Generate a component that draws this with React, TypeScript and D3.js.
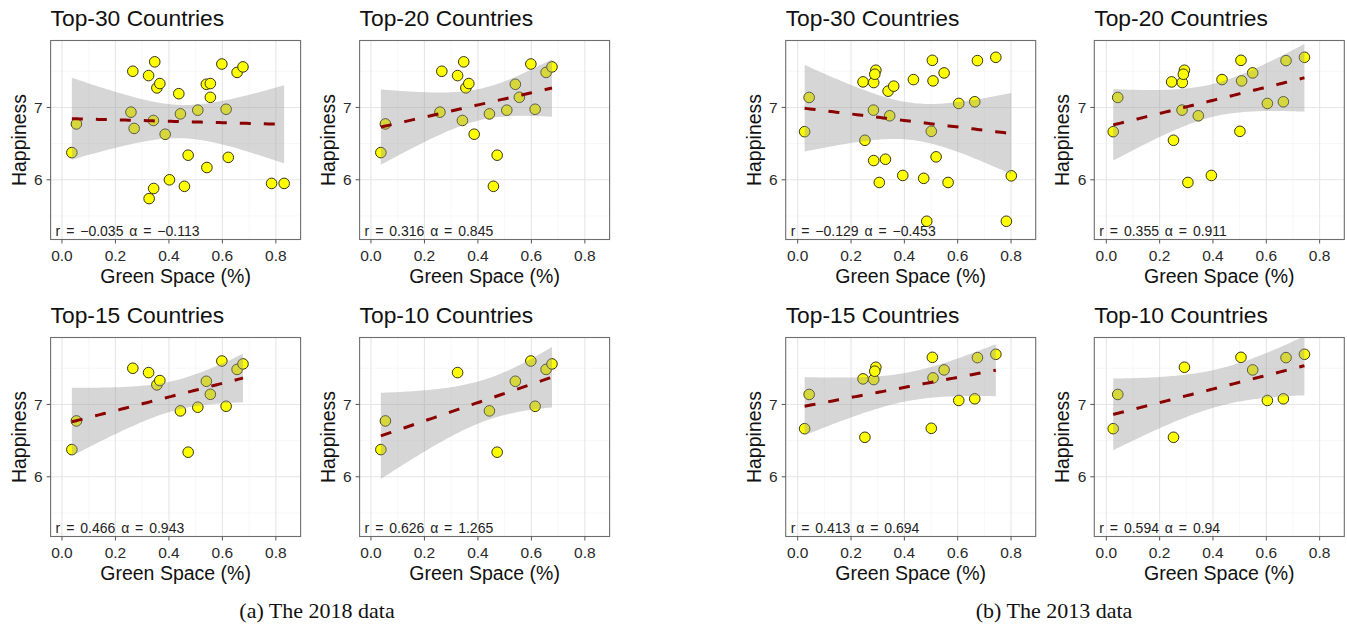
import React from "react";
import * as d3 from "d3";

// ---- Data (ordered by rank: top-10, 11-15, 16-20, 21-30) ----
const topSizes = [30, 20, 15, 10];
const panelTitles = ["Top-30 Countries", "Top-20 Countries", "Top-15 Countries", "Top-10 Countries"];

const green2018 = [
  0.037, 0.054, 0.324, 0.443, 0.472, 0.540, 0.598, 0.614, 0.655, 0.677,
  0.265, 0.355, 0.366, 0.508, 0.555,
  0.258, 0.347, 0.342, 0.386, 0.458,
  0.270, 0.326, 0.343, 0.402, 0.437, 0.555, 0.542, 0.622, 0.784, 0.831,
];
const happy2018 = [
  6.376, 6.772, 7.440, 6.911, 6.340, 7.320, 7.600, 6.975, 7.484, 7.560,
  7.500, 7.270, 7.330, 6.962, 7.140,
  6.935, 7.630, 6.820, 6.630, 5.910,
  6.710, 5.740, 5.880, 6.000, 7.190, 7.330, 6.170, 6.310, 5.950, 5.950,
];
const green2013 = [
  0.026, 0.043, 0.252, 0.293, 0.505, 0.549, 0.604, 0.664, 0.674, 0.743,
  0.245, 0.285, 0.289, 0.5075, 0.501,
  0.284, 0.306, 0.345, 0.394, 0.434,
  0.285, 0.329, 0.339, 0.360, 0.4725, 0.484, 0.519, 0.564, 0.801, 0.7825,
];
const happy2013 = [
  6.665, 7.138, 6.546, 7.514, 7.651, 7.477, 7.055, 7.078, 7.647, 7.693,
  7.353, 7.344, 7.459, 7.367, 6.670,
  6.963, 5.963, 6.885, 6.060, 7.385,
  6.266, 6.284, 7.225, 7.294, 6.020, 5.427, 6.317, 5.963, 6.055, 5.427,
];
const r2018 = ["\u22120.035", "0.316", "0.466", "0.626"];
const alpha2018 = ["\u22120.113", "0.845", "0.943", "1.265"];
const r2013 = ["\u22120.129", "0.355", "0.413", "0.594"];
const alpha2013 = ["\u22120.453", "0.911", "0.694", "0.94"];

const xTicks = [0, 0.2, 0.4, 0.6, 0.8];
const xMinor = [0.1, 0.3, 0.5, 0.7];
const yTicks = [6, 7];
const yMinor = [5.5, 6.5, 7.5];

// t critical values (95%, two-sided) by degrees of freedom
const tCrit: Record<number, number> = { 8: 2.306, 13: 2.1604, 18: 2.1009, 28: 2.0484 };

const FONT = "'Liberation Sans', Arial, Helvetica, sans-serif";
const PW = 250;
const rowTops = [40.5, 337.5];
const PH = 199;

const figs = [
  { green: green2018, happy: happy2018, rs: r2018, alphas: alpha2018, lefts: [50.6, 359.6], xDomain: [-0.0425, 0.8925], caption: "(a) The 2018 data", capX: 317 },
  { green: green2013, happy: happy2013, rs: r2013, alphas: alpha2013, lefts: [785.7, 1094.3], xDomain: [-0.045, 0.8925], caption: "(b) The 2013 data", capX: 1054 },
];

function fitBand(xs: number[], ys: number[]) {
  const n = xs.length;
  const mx = d3.mean(xs)!;
  const my = d3.mean(ys)!;
  let sxx = 0, sxy = 0;
  for (let i = 0; i < n; i++) {
    sxx += (xs[i] - mx) ** 2;
    sxy += (xs[i] - mx) * (ys[i] - my);
  }
  const b = sxy / sxx;
  const a = my - b * mx;
  let sse = 0;
  for (let i = 0; i < n; i++) sse += (ys[i] - a - b * xs[i]) ** 2;
  const s = Math.sqrt(sse / (n - 2));
  const t = tCrit[n - 2];
  const [x0, x1] = d3.extent(xs) as [number, number];
  return d3.range(80).map((i) => {
    const x = x0 + ((x1 - x0) * i) / 79;
    const fit = a + b * x;
    const se = s * Math.sqrt(1 / n + (x - mx) ** 2 / sxx);
    return { x, fit, lo: fit - t * se, hi: fit + t * se };
  });
}

function Panel({ left, top, xDomain, xs, ys, title, r, alpha, id }: any) {
  const x = d3.scaleLinear().domain(xDomain).range([left, left + PW]);
  const y = d3.scaleLinear().domain([5.175, 7.925]).range([top + PH, top]);
  const band = fitBand(xs, ys);
  const area = d3.area<any>().x((d) => x(d.x)).y0((d) => y(d.lo)).y1((d) => y(d.hi));
  const line = d3.line<any>().x((d) => x(d.x)).y((d) => y(d.fit));
  const bottom = top + PH;
  const right = left + PW;
  return (
    <g>
      <defs>
        <clipPath id={id}>
          <rect x={left} y={top} width={PW} height={PH} />
        </clipPath>
      </defs>
      <rect x={left} y={top} width={PW} height={PH} fill="#fff" />
      {xMinor.map((v) => (
        <line key={"xm" + v} x1={x(v)} x2={x(v)} y1={top} y2={bottom} stroke="#f2f2f2" strokeWidth={0.6} />
      ))}
      {yMinor.map((v) => (
        <line key={"ym" + v} x1={left} x2={right} y1={y(v)} y2={y(v)} stroke="#f2f2f2" strokeWidth={0.6} />
      ))}
      {xTicks.map((v) => (
        <line key={"xg" + v} x1={x(v)} x2={x(v)} y1={top} y2={bottom} stroke="#e6e6e6" strokeWidth={1.1} />
      ))}
      {yTicks.map((v) => (
        <line key={"yg" + v} x1={left} x2={right} y1={y(v)} y2={y(v)} stroke="#e6e6e6" strokeWidth={1.1} />
      ))}
      <g clipPath={`url(#${id})`}>
        {xs.map((v: number, i: number) => (
          <circle key={i} cx={x(v)} cy={y(ys[i])} r={5.3} fill="#ffff00" stroke="#333318" strokeWidth={1} />
        ))}
        <path d={area(band)!} fill="#999999" fillOpacity={0.4} />
        <path d={line(band)!} fill="none" stroke="#8b0000" strokeWidth={3} strokeDasharray="11 13" />
      </g>
      <rect x={left} y={top} width={PW} height={PH} fill="none" stroke="#6e6e6e" strokeWidth={1.1} />
      {xTicks.map((v) => (
        <g key={"xt" + v}>
          <line x1={x(v)} x2={x(v)} y1={bottom} y2={bottom + 4} stroke="#555" strokeWidth={1} />
          <text x={x(v)} y={bottom + 21.5} textAnchor="middle" fontSize={15.5} fill="#2a2a2a" fontFamily={FONT}>
            {d3.format(".1f")(v)}
          </text>
        </g>
      ))}
      {yTicks.map((v) => (
        <g key={"yt" + v}>
          <line x1={left - 4} x2={left} y1={y(v)} y2={y(v)} stroke="#555" strokeWidth={1} />
          <text x={left - 8} y={y(v) + 5.5} textAnchor="end" fontSize={15.5} fill="#2a2a2a" fontFamily={FONT}>
            {v}
          </text>
        </g>
      ))}
      <text x={left + 5} y={bottom - 3.5} fontSize={14} wordSpacing={2} fill="#222" fontFamily={FONT}>
        {`r = ${r} \u03b1 = ${alpha}`}
      </text>
      <text x={left} y={top - 14.5} fontSize={22.8} fill="#111" fontFamily={FONT}>
        {title}
      </text>
      <text x={(left + right) / 2} y={bottom + 43.5} textAnchor="middle" fontSize={19.5} fill="#111" fontFamily={FONT}>
        Green Space (%)
      </text>
      <text
        transform={`translate(${left - 25},${(top + bottom) / 2}) rotate(-90)`}
        textAnchor="middle"
        fontSize={19.5}
        fill="#111"
        fontFamily={FONT}
      >
        Happiness
      </text>
    </g>
  );
}

export default function App() {
  return (
    <svg width={1347} height={627} style={{ position: "absolute", left: 0, top: 0, background: "#fff" }}>
      <rect width={1347} height={627} fill="#fff" />
      {figs.map((f, fi) => (
        <g key={fi}>
          {topSizes.map((n, k) => {
            const col = k % 2;
            const row = Math.floor(k / 2);
            return (
              <Panel
                key={k}
                id={`clip-${fi}-${k}`}
                left={f.lefts[col]}
                top={rowTops[row]}
                xDomain={f.xDomain}
                xs={f.green.slice(0, n)}
                ys={f.happy.slice(0, n)}
                title={panelTitles[k]}
                r={f.rs[k]}
                alpha={f.alphas[k]}
              />
            );
          })}
          <text x={f.capX} y={618} textAnchor="middle" fontSize={22} fontFamily="'Liberation Serif', 'Times New Roman', serif" fill="#111">
            {f.caption}
          </text>
        </g>
      ))}
    </svg>
  );
}
